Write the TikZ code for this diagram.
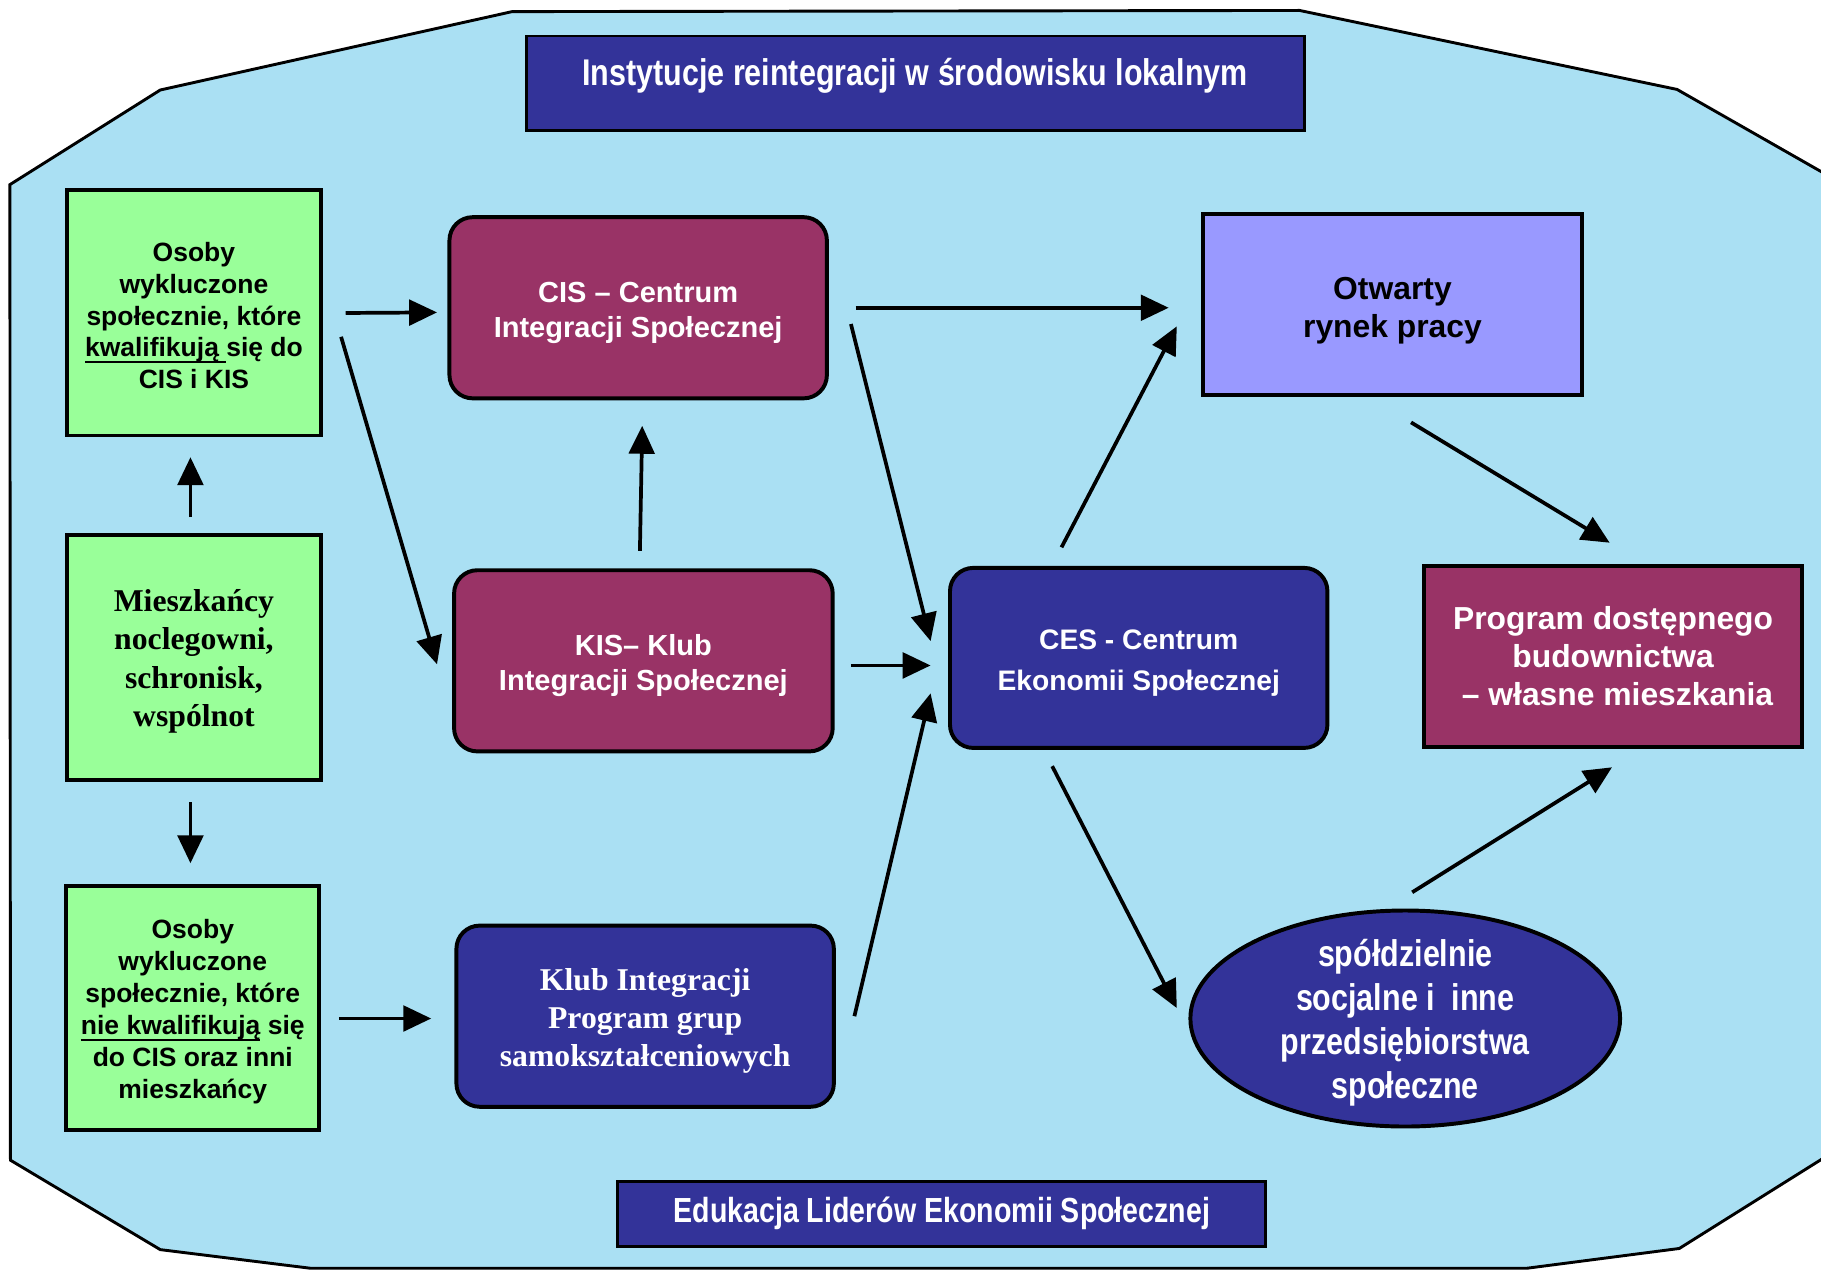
\documentclass[tikz,border=0pt]{standalone}
\usepackage{fontspec}
\setmainfont{Liberation Sans}
\newfontfamily\narrowf{Liberation Sans}[FakeStretch=0.82]
\newfontfamily\seriff{Liberation Serif}
\usetikzlibrary{arrows.meta,shapes.geometric}
\definecolor{bgcyan}{RGB}{170,224,243}
\definecolor{dblue}{HTML}{333399}
\definecolor{maroon}{HTML}{993366}
\definecolor{lgreen}{HTML}{99FF99}
\definecolor{lav}{HTML}{9999FF}
\newcommand\firststrut[1]{\rule{0pt}{#1}}
\newcommand\myul[1]{\setbox0\hbox{#1}\rlap{\rule[-5.5pt]{\wd0}{1.8pt}}\box0\relax}
\begin{document}
\begin{tikzpicture}[x=1pt,y=-1pt,
  box/.style={draw=black,line width=3.4pt,inner sep=0pt,align=center},
  greenbox/.style={box,fill=lgreen,minimum width=218pt,minimum height=211pt,
    font=\bfseries\fontsize{22.8}{27.5}\selectfont},
  rbox/.style={box,rounded corners=20pt,minimum width=325pt,minimum height=156pt,text=white},
  sbox/.style={box,minimum width=326pt,minimum height=156pt},
  bannerbox/.style={box,fill=dblue,line width=2.5pt},
  bannertext/.style={text=white,font=\narrowf\bfseries\fontsize{#1}{#1}\selectfont,inner sep=0pt},
  arr/.style={line width=3.2pt,-{Triangle[length=24pt,width=22pt]}},
  sansA/.style={font=\bfseries\fontsize{25}{30}\selectfont},
  sansB/.style={font=\bfseries\fontsize{27.4}{33}\selectfont},
  serifA/.style={font=\seriff\bfseries\fontsize{27.3}{33}\selectfont},
]
\useasboundingbox (0,0) rectangle (1568,1094);
% background octagon
\draw[fill=bgcyan,line width=2.5pt,line join=miter]
  (441,10) -- (1119,9) -- (1444,77) -- (1572,150) -- (1572,996) -- (1446,1075)
  -- (1315,1092) -- (267,1092) -- (138,1076) -- (9,999) -- (8.5,159) -- (138,77.5) -- cycle;

% title and bottom banner
\node[bannerbox,minimum width=670pt,minimum height=81pt] (title) at (788,71.5) {};
\node[bannertext=32] (titletext) at (788,65) {Instytucje reintegracji w środowisku lokalnym};
\node[bannerbox,minimum width=558pt,minimum height=56pt] (edu) at (811,1045)
  {\narrowf\bfseries\color{white}\fontsize{30}{30}\selectfont Edukacja Liderów Ekonomii Społecznej};

% left column
\node[greenbox] (g1) at (167,269.5)
  {\firststrut{21pt}Osoby\\wykluczone\\społecznie, które\\\myul{kwalifikują }się do\\CIS i KIS};
\node[greenbox,serifA] (mies) at (167,566.5)
  {\firststrut{25pt}Mieszkańcy\\noclegowni,\\schronisk,\\wspólnot};
\node[greenbox,minimum height=210pt] (g2) at (166,868)
  {\firststrut{23pt}Osoby\\wykluczone\\społecznie, które\\\myul{nie kwalifikują} się\\do CIS oraz inni\\mieszkańcy};

% middle column
\node[rbox,fill=maroon,sansA] (cis) at (549.5,265) {\firststrut{26pt}CIS – Centrum\\Integracji Społecznej};
\node[rbox,fill=maroon,sansA,minimum width=326pt] (kis) at (554,569) {\firststrut{26pt}KIS– Klub\\Integracji Społecznej};
\node[rbox,fill=dblue,serifA] (klub) at (555.5,875) {\firststrut{27pt}Klub Integracji\\Program grup\\samokształceniowych};

% right part
\node[sbox,fill=lav,sansB] (otw) at (1199,262) {\firststrut{30pt}Otwarty\\rynek pracy};
\node[rbox,fill=dblue,minimum height=155pt,font=\bfseries\fontsize{24.3}{35}\selectfont] (ces) at (980.5,566.5)
  {\firststrut{25.5pt}CES - Centrum\\Ekonomii Społecznej};
\node[sbox,fill=maroon,text=white,sansB] (prog) at (1389,565)
  {Program dostępnego\\budownictwa\\\ – własne mieszkania};
\node[ellipse,draw=black,line width=3.4pt,fill=dblue,inner sep=0pt,
  minimum width=370pt,minimum height=186pt] (ell) at (1210,877) {};
\node[text=white,inner sep=0pt,align=center,
  font=\narrowf\bfseries\fontsize{32}{38}\selectfont] (elltext) at (1210,880.5)
  {spółdzielnie\\socjalne i\ \ inne\\przedsiębiorstwa\\społeczne};

% arrows
\draw[arr] ([shift={(20,0)}]g1.east) -- ([shift={(-9,4)}]cis.west);
\draw[arr] ([shift={(16,20.5)}]g1.east) -- ([shift={(-13,3)}]kis.west);
\draw[arr] ([shift={(-3,-14)}]mies.north) -- ([shift={(-3,17)}]g1.south);
\draw[arr] ([shift={(-3,17)}]mies.south) -- ([shift={(-2,-18)}]g2.north);
\draw[arr] ([shift={(15,9)}]g2.east) -- ([shift={(-20,2)}]klub.west);
\draw[arr] ([shift={(-3,-15)}]kis.north) -- ([shift={(3.5,22)}]cis.south);
\draw[arr] ([shift={(23,0)}]cis.east) -- ([shift={(-28,3)}]otw.west);
\draw[arr] ([shift={(19,14)}]cis.east) -- ([shift={(-15,-14.5)}]ces.west);
\draw[arr] ([shift={(14,4)}]kis.east) -- ([shift={(-15,6.5)}]ces.west);
\draw[arr] ([shift={(16,0)}]klub.east) -- ([shift={(-15,30.5)}]ces.west);
\draw[arr] ([shift={(-66.5,-16)}]ces.north) -- ([shift={(-21,19)}]otw.west);
\draw[arr] ([shift={(-74.5,14)}]ces.south) -- ([shift={(-10,-9)}]ell.west);
\draw[arr] ([shift={(16,22)}]otw.south) -- ([shift={(-3,-18)}]prog.north);
\draw[arr] ([shift={(6,-14)}]ell.north) -- ([shift={(-1,16)}]prog.south);
\end{tikzpicture}
\end{document}
